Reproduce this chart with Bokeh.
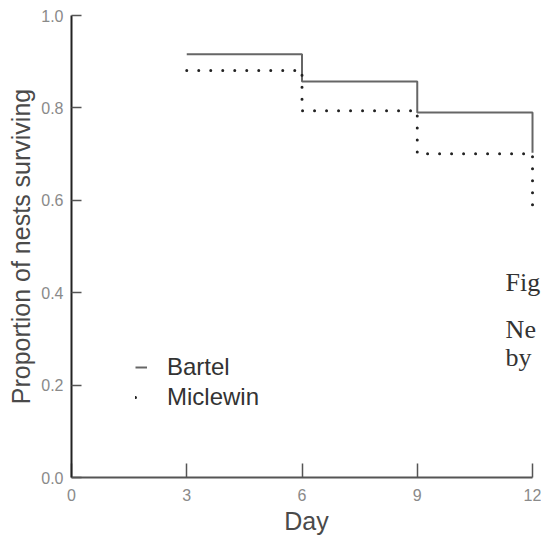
from bokeh.plotting import figure
from bokeh.models import Range1d, FixedTicker, Legend, LegendItem, Label
from bokeh.embed import file_html
from bokeh.resources import INLINE

# ---- data ----
days = [3, 6, 9, 12]
bartel = [0.916, 0.857, 0.790, 0.703]
miclewin = [0.881, 0.794, 0.701, 0.569]
series_names = ["Bartel", "Miclewin"]
x_ticks = [0, 3, 6, 9, 12]
y_ticks = [0.0, 0.2, 0.4, 0.6, 0.8, 1.0]
y_tick_labels = ["0.0", "0.2", "0.4", "0.6", "0.8", "1.0"]
x_title = "Day"
y_title = "Proportion of nests surviving"
caption_lines = ["Fig", "Ne", "by"]
caption_x = 11.30
caption_y = [0.422, 0.320, 0.260]

X_MAX = 12.234  # frame runs slightly past day 12 so the caption is not clipped

p = figure(width=541, height=537, output_backend="svg", toolbar_location=None,
           x_range=Range1d(0, X_MAX), y_range=Range1d(0, 1),
           min_border_left=71, min_border_right=0,
           min_border_top=15, min_border_bottom=60)
p.outline_line_color = None
p.grid.visible = False
p.background_fill_color = "white"
p.border_fill_color = "white"

# axes
p.xaxis.ticker = FixedTicker(ticks=x_ticks)
p.yaxis.ticker = FixedTicker(ticks=y_ticks)
p.xaxis.bounds = (0, 12)
p.yaxis.bounds = (0, 1)
p.yaxis.major_label_overrides = {t: l for t, l in zip(y_ticks, y_tick_labels)}
for ax in (p.xaxis, p.yaxis):
    ax.minor_tick_line_color = None
    ax.major_tick_out = 0
    ax.axis_line_width = 2
    ax.major_tick_line_width = 1.5
    ax.major_tick_line_color = "#555555"
    ax.major_label_text_font = "Liberation Sans"
    ax.major_label_text_font_size = "16px"
    ax.major_label_text_color = "#8a8a8a"
    ax.axis_label_text_font = "Liberation Sans"
    ax.axis_label_text_font_style = "normal"
    ax.axis_label_text_font_size = "25px"
    ax.axis_label_text_color = "#4a4a4a"
p.xaxis.axis_line_color = "#555555"
p.yaxis.axis_line_color = "#222222"
p.xaxis.major_tick_in = 14
p.yaxis.major_tick_in = 10
p.xaxis.major_label_standoff = 11
p.yaxis.major_label_standoff = 8
p.xaxis.axis_label = x_title
p.yaxis.axis_label = y_title
p.xaxis.axis_label_standoff = 3
p.yaxis.axis_label_standoff = 3

# survival steps
r_b = p.step(days, bartel, mode="after", line_color="#666666", line_width=2)
r_m = p.step(days, miclewin, mode="after", line_color="#222222", line_width=3,
             line_dash="0 12", line_cap="round")

legend = Legend(items=[LegendItem(label=series_names[0], renderers=[r_b]),
                       LegendItem(label=series_names[1], renderers=[r_m])],
                location=(64, 66), orientation="vertical",
                label_text_font="Liberation Sans", label_text_font_size="24px",
                label_text_color="#333333",
                glyph_width=12, glyph_height=26, label_height=26,
                spacing=2, label_standoff=20, padding=0, margin=0,
                border_line_color=None, background_fill_alpha=0)
p.add_layout(legend)

for txt, yy in zip(caption_lines, caption_y):
    p.add_layout(Label(x=caption_x, y=yy, text=txt, text_font="Liberation Serif",
                       text_font_size="26px", text_color="#333333",
                       text_baseline="alphabetic", text_align="left"))

open("out.html", "w").write(file_html(p, INLINE))
